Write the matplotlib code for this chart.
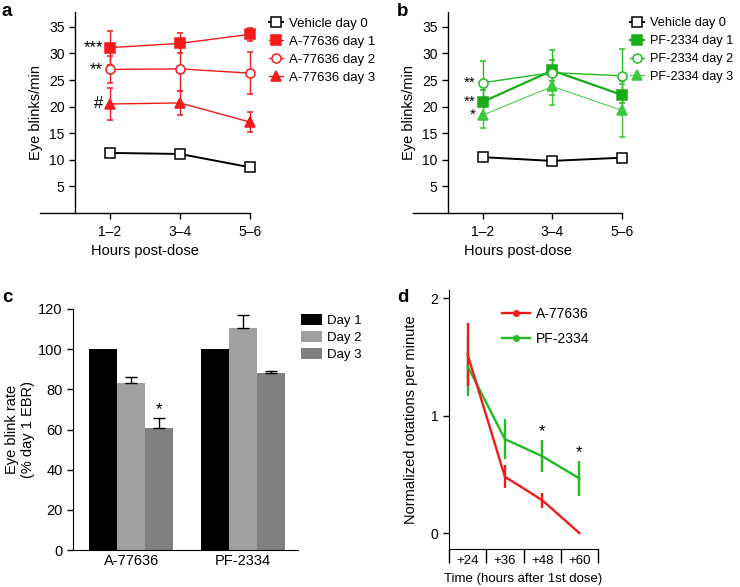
import numpy as np
import matplotlib
matplotlib.use("Agg")
import matplotlib.pyplot as plt
from matplotlib.lines import Line2D

plt.rcParams['font.family'] = ['Liberation Sans', 'DejaVu Sans']
plt.rcParams['font.size'] = 10

hours = ["1\u20132", "3\u20134", "5\u20136"]

# panel a (A-77636)
veh_a = [11.3, 11.1, 8.6]
a_day1 = [31.1, 31.9, 33.6]
a_day1_err = [3.2, 1.9, 1.2]
a_day2 = [27.0, 27.1, 26.3]
a_day2_err = [2.6, 4.2, 3.9]
a_day3 = [20.5, 20.7, 17.1]
a_day3_err = [3.0, 2.2, 1.8]
a_marks = ["***", "**", "#"]

# panel b (PF-2334)
veh_b = [10.5, 9.8, 10.4]
b_day1 = [20.9, 26.8, 22.2]
b_day1_err = [2.2, 1.9, 2.6]
b_day2 = [24.5, 26.4, 25.8]
b_day2_err = [4.1, 4.3, 5.1]
b_day3 = [18.4, 23.8, 19.3]
b_day3_err = [2.5, 3.5, 5.0]
b_marks = ["**", "**", "*"]

# panel c
drugs = ["A-77636", "PF-2334"]
c_day1 = [100, 100]
c_day2 = [83.3, 110.5]
c_day2_err = [2.7, 6.3]
c_day3 = [60.5, 88.3]
c_day3_err = [5.2, 0.9]

# panel d
times = ["+24", "+36", "+48", "+60"]
d_a = [1.52, 0.48, 0.28, 0.0]
d_a_err = [0.27, 0.10, 0.065, 0.0]
d_pf = [1.42, 0.80, 0.655, 0.465]
d_pf_err = [0.25, 0.17, 0.135, 0.15]
d_marks = ["", "", "*", "*"]

red = "#f21a1a"
green = "#22bb22"
W, H = 740, 587
fig = plt.figure(figsize=(W / 100, H / 100), dpi=100)


def ax_px(x0, y0, x1, y1):
    return fig.add_axes([x0 / W, 1 - y1 / H, (x1 - x0) / W, (y1 - y0) / H])


def style_line_axes(ax):
    ax.spines['top'].set_visible(False)
    ax.spines['right'].set_visible(False)
    ax.spines['left'].set_position(('data', -0.5))
    ax.set_xlim(-1, 2)
    ax.set_ylim(0, 37.8)
    ax.set_yticks([5, 10, 15, 20, 25, 30, 35])
    ax.set_xticks(range(3))
    ax.set_xticklabels(hours)
    ax.tick_params(direction='out', length=4, width=1, labelsize=10)
    ax.tick_params(axis='x', pad=5)
    ax.set_ylabel("Eye blinks/min", fontsize=10.5, labelpad=4)
    ax.set_xlabel("Hours post-dose", fontsize=10.5, labelpad=3)
    for s in ax.spines.values():
        s.set_linewidth(1)


def line_panel(ax, veh, series, errs, styles, labels, marks, mark_vals, lx, mfs, lfs):
    handles = []
    ax.plot(x, veh, '-s', color='black', mfc='white', ms=6.5, lw=1.4, mew=1.1,
            clip_on=False)
    handles.append(Line2D([], [], marker='s', color='black', mfc='white', ms=6.5,
                          lw=1.4, mew=1.1))
    for ys, es, st in zip(series, errs, styles):
        ax.errorbar(x, ys, yerr=es, fmt='-' + st['m'], color=st['c'],
                    mfc=st.get('mfc', st['c']), ms=6.5, lw=st['lw'], mew=1.1,
                    capsize=2.5, elinewidth=1, clip_on=False)
        handles.append(Line2D([], [], marker=st['m'], color=st['c'],
                              mfc=st.get('mfc', st['c']), ms=6.5, lw=st['lw'],
                              mew=1.1))
    for v, m in zip(mark_vals, marks):
        ax.text(-0.1, v, m, ha='right', va='center', fontsize=mfs)
    ax.legend(handles, labels, loc='upper left', bbox_to_anchor=(lx, 1.0),
              frameon=False, handlelength=1.1, handletextpad=0.45,
              labelspacing=0.45 * 9.5 / lfs, fontsize=lfs, borderaxespad=0)


x = np.arange(3)

# ---- a ----
ax = ax_px(40, 12, 250, 213)
style_line_axes(ax)
line_panel(ax, veh_a, [a_day1, a_day2, a_day3], [a_day1_err, a_day2_err, a_day3_err],
           [dict(m='s', c=red, lw=1), dict(m='o', c=red, mfc='white', lw=1),
            dict(m='^', c=red, lw=1)],
           ["Vehicle day 0", "A-77636 day 1", "A-77636 day 2", "A-77636 day 3"],
           a_marks, [a_day1[0], a_day2[0], a_day3[0]], 1.065, 12, 9.5)

# ---- b ----
ax = ax_px(413, 12, 622, 213)
style_line_axes(ax)
line_panel(ax, veh_b, [b_day1, b_day2, b_day3], [b_day1_err, b_day2_err, b_day3_err],
           [dict(m='s', c="#1aaa1a", lw=1.6), dict(m='o', c=green, mfc='white', lw=1),
            dict(m='^', c="#3cc83c", lw=0.7)],
           ["Vehicle day 0", "PF-2334 day 1", "PF-2334 day 2", "PF-2334 day 3"],
           b_marks, [b_day2[0], b_day1[0], b_day3[0]], 1.015, 11, 9.2)

# ---- c ----
ax = ax_px(73, 309, 298, 550)
g = np.arange(2)
bw = 0.25
ax.bar(g - bw, c_day1, bw, color='black', label="Day 1")
ax.bar(g, c_day2, bw, color='#a0a0a0', label="Day 2")
ax.bar(g + bw, c_day3, bw, color='#808080', label="Day 3")
ax.errorbar(g, c_day2, yerr=[[0, 0], c_day2_err], fmt='none', ecolor='black',
            elinewidth=1, capsize=4.5, capthick=1)
ax.errorbar(g + bw, c_day3, yerr=[[0, 0], c_day3_err], fmt='none', ecolor='black',
            elinewidth=1, capsize=4.5, capthick=1)
ax.text(bw, c_day3[0] + c_day3_err[0] + 0.5, "*", ha='center', va='bottom', fontsize=12)
ax.set_xlim(-0.52, 1.49)
ax.set_ylim(0, 120)
ax.set_yticks(range(0, 121, 20))
ax.set_xticks(g)
ax.set_xticklabels(drugs)
ax.spines['top'].set_visible(False)
ax.spines['right'].set_visible(False)
ax.tick_params(direction='out', length=4, width=1, labelsize=10.5)
ax.tick_params(axis='x', length=0, pad=3)
ax.set_ylabel("Eye blink rate\n(% day 1 EBR)", fontsize=10.5, labelpad=2,
              linespacing=1.2)
ax.legend(loc='upper left', bbox_to_anchor=(0.99, 1.0), frameon=False,
          handlelength=1.6, handleheight=0.9, handletextpad=0.4,
          labelspacing=0.3, fontsize=9.5, borderaxespad=0)

# ---- d ----
ax = ax_px(449, 290, 598, 549)
xd = np.arange(4) + 0.5
ax.errorbar(xd, d_pf, yerr=d_pf_err, fmt='-', color=green, lw=1.7, elinewidth=1.7,
            capsize=0)
ax.errorbar(xd, d_a, yerr=d_a_err, fmt='-', color=red, lw=1.7, elinewidth=1.7,
            capsize=0)
hd = [Line2D([], [], marker='o', color=red, lw=1.7, ms=4),
      Line2D([], [], marker='o', color=green, lw=1.7, ms=4)]
for xi, v, e, m in zip(xd, d_pf, d_pf_err, d_marks):
    if m:
        ax.text(xi, v + e + 0.01, m, ha='center', va='bottom', fontsize=12)
ax.set_xlim(0, 4)
ax.set_ylim(-0.136, 2.07)
ax.set_yticks([0, 1, 2])
ax.set_xticks(range(5))
ax.set_xticklabels([])
ax.set_xticks(xd, minor=True)
ax.set_xticklabels(times, minor=True)
ax.tick_params(axis='x', which='major', direction='out', length=10, width=1)
ax.tick_params(axis='x', which='minor', length=0, pad=4, labelsize=9.5)
ax.tick_params(axis='y', direction='out', length=4, width=1, labelsize=10)
ax.spines['top'].set_visible(False)
ax.spines['right'].set_visible(False)
ax.set_ylabel("Normalized rotations per minute", fontsize=10.5, labelpad=9)
ax.set_xlabel("Time (hours after 1st dose)", fontsize=9.5, labelpad=4)
ax.legend(hd, ["A-77636", "PF-2334"], loc='upper left',
          bbox_to_anchor=(0.32, 0.955), frameon=False,
          handlelength=2.0, handletextpad=0.4, labelspacing=0.75, fontsize=10,
          borderaxespad=0)

# panel letters
for lab, px, py in [("a", 2, 11), ("b", 397, 11), ("c", 2, 298), ("d", 397, 298)]:
    fig.text(px / W, 1 - py / H, lab, fontsize=13.5, fontweight='bold',
             ha='left', va='center')

fig.savefig("out.png", dpi=100)
